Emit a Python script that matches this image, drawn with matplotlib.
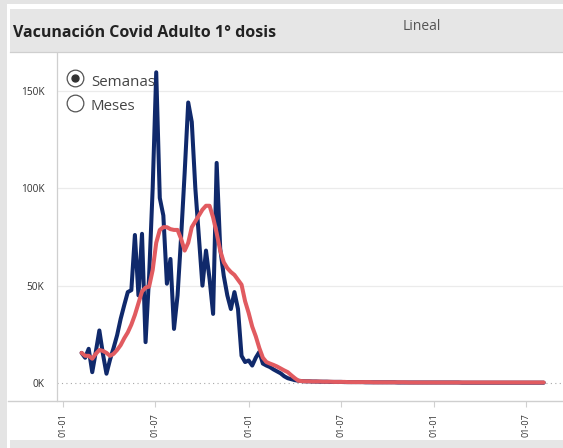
import matplotlib
matplotlib.use("Agg")
import matplotlib.pyplot as plt
from matplotlib.patches import Rectangle
from matplotlib.lines import Line2D
import pandas as pd

# ---------------- data ----------------
start_date = "2021-02-06"
semanal = [15.5, 13, 17.6, 5.6, 16, 27, 15, 4.8, 12, 18,
           24.6, 33, 40, 46.7, 47.7, 76, 45, 76.6, 21, 55,
           100, 159.5, 95, 86, 51, 63.7, 27.8, 45, 75, 108,
           144, 134, 100, 75, 50, 68, 53.5, 35.5, 113, 69,
           55, 45, 38, 46.7, 38, 14, 10.8, 11.6, 9, 13,
           16, 10, 9, 8.2, 7, 6, 5, 3.5, 2.5, 2,
           1.5, 1.2,
           1.0, 0.9, 0.9, 0.8, 0.8, 0.7, 0.7, 0.7, 0.6, 0.6,
           0.6, 0.6, 0.5, 0.5, 0.5, 0.5, 0.5, 0.5, 0.4, 0.4,
           0.4, 0.4, 0.4, 0.4, 0.4, 0.4, 0.4, 0.3, 0.3, 0.3,
           0.3, 0.3, 0.3, 0.3, 0.3, 0.3, 0.3, 0.3, 0.3, 0.3,
           0.3, 0.3, 0.3, 0.3, 0.3, 0.2, 0.2, 0.2, 0.2, 0.2,
           0.2, 0.2, 0.2, 0.2, 0.2, 0.2, 0.2, 0.2, 0.2, 0.2,
           0.2, 0.2, 0.2, 0.2, 0.2, 0.2, 0.2, 0.2, 0.2]
tendencia = [15.5, 14, 14, 12.5, 15, 17, 16.5, 15.5, 14, 15,
             17, 19.5, 23, 26, 30, 35, 41, 47, 49, 49.5,
             58, 72, 78.6, 80, 80, 79, 78.6, 78.6, 74, 68,
             72, 80, 83, 86, 89, 91, 91, 85, 77, 68,
             62, 59, 57, 55.5, 53, 50.5, 42, 36, 29, 24,
             18, 13, 10.8, 10, 9.3, 8.5, 7.5, 6.5, 5.6, 4,
             2.5, 1.2,
             1.0, 0.9, 0.9, 0.8, 0.8, 0.8, 0.7, 0.7, 0.7, 0.6,
             0.6, 0.6, 0.6, 0.5, 0.5, 0.5, 0.5, 0.5, 0.5, 0.5,
             0.4, 0.4, 0.4, 0.4, 0.4, 0.4, 0.4, 0.4, 0.4, 0.4,
             0.3, 0.3, 0.3, 0.3, 0.3, 0.3, 0.3, 0.3, 0.3, 0.3,
             0.3, 0.3, 0.3, 0.3, 0.3, 0.3, 0.3, 0.3, 0.3, 0.3,
             0.3, 0.3, 0.3, 0.3, 0.3, 0.3, 0.3, 0.3, 0.3, 0.3,
             0.3, 0.3, 0.3, 0.3, 0.3, 0.3, 0.3, 0.3, 0.3]
fechas = pd.date_range(start_date, periods=len(semanal), freq="7D")

ytick_vals = [0, 50, 100, 150]
ytick_labels = ["0K", "50K", "100K", "150K"]
xtick_dates = ["2021-01-01", "2021-07-01", "2022-01-01", "2022-07-01",
               "2023-01-01", "2023-07-01"]
xtick_labels = ["01-01", "01-07", "01-01", "01-07", "01-01", "01-07"]
titulo = "Vacunación Covid Adulto 1° dosis"
opciones = ["Semanas", "Meses"]

# ---------------- figure ----------------
W, H = 563, 448
fig = plt.figure(figsize=(W / 100, H / 100), dpi=100, facecolor="white")

def fx(x):
    return x / W

def fy(y):
    return 1 - y / H

def rect(x0, y0, x1, y1, color, z=0):
    fig.patches.append(Rectangle((fx(x0), fy(y1)), fx(x1) - fx(x0), fy(y0) - fy(y1),
                                 transform=fig.transFigure, facecolor=color,
                                 edgecolor="none", zorder=z))

def hline(x0, x1, y, color, lw=1.0, ls="-"):
    fig.add_artist(Line2D([fx(x0), fx(x1)], [fy(y), fy(y)], transform=fig.transFigure,
                          color=color, lw=lw, ls=ls))

# frame / background bands
rect(0, 0, W, 4, "#e4e4e4")
rect(0, 0, 7, H, "#e4e4e4")
rect(10, 440, W, H, "#e6e6e6")
rect(10, 9, W, 52, "#e6e6e6")
hline(10, W, 52, "#cfcfcf", lw=0.9)

fig.text(fx(13), fy(33), titulo, fontsize=11.5, fontweight="bold",
         family="Open Sans", color="#222222", va="center", ha="left")
fig.text(fx(403), fy(26), "Lineal", fontsize=10, family="Open Sans",
         color="#555555", va="center", ha="left")

# axes
x_left, x_right, y_top, y_bot = 57, W, 53, 401
ax = fig.add_axes([fx(x_left), fy(y_bot), fx(x_right) - fx(x_left), fy(y_top) - fy(y_bot)])
ax.set_facecolor("white")

for v in ytick_vals[1:]:
    ax.axhline(v, color="#ebebeb", lw=0.9, zorder=1)
ax.axhline(0, color="#a8a8a8", lw=0.8, ls=(0, (1, 3)), zorder=1)

ax.plot(fechas, semanal, color="#10296b", lw=2.9, solid_joinstyle="round",
        solid_capstyle="round", zorder=3)
ax.plot(fechas, tendencia, color="#e15b60", lw=2.9, solid_joinstyle="round",
        solid_capstyle="round", zorder=4)

x0 = pd.Timestamp("2021-01-01") - pd.Timedelta(days=12.4)
x1 = pd.Timestamp("2021-01-01") + pd.Timedelta(days=984)
ax.set_xlim(x0, x1)
ax.set_ylim(-9.2, 169.4)

ax.set_yticks(ytick_vals)
ax.set_yticklabels(ytick_labels, fontsize=7.3, color="#333333", family="Open Sans")
ax.tick_params(axis="y", length=0, pad=9)

ax.set_xticks(pd.to_datetime(xtick_dates))
ax.set_xticklabels(xtick_labels, rotation=90, fontsize=6.5, color="#333333",
                   family="Open Sans")
ax.tick_params(axis="x", length=4, width=0.8, color="#d0d0d0", pad=5)

for s in ["top", "right", "bottom"]:
    ax.spines[s].set_visible(False)
ax.spines["left"].set_color("#cfcfcf")
ax.spines["left"].set_linewidth(0.9)

hline(8, W, 401, "#cfcfcf", lw=1.0)

# radio buttons
for i, (lab, cy) in enumerate(zip(opciones, [78, 103])):
    fig.add_artist(Line2D([fx(75)], [fy(cy)], transform=fig.transFigure, marker="o",
                          markersize=12, markerfacecolor="white",
                          markeredgecolor="#555555", markeredgewidth=0.9, zorder=10))
    if i == 0:
        fig.add_artist(Line2D([fx(75)], [fy(cy)], transform=fig.transFigure, marker="o",
                              markersize=5, markerfacecolor="#333333",
                              markeredgecolor="#333333", zorder=11))
    fig.text(fx(91), fy(cy + 4), lab, fontsize=10.8, family="Open Sans", color="#444444",
             va="center", ha="left", zorder=11)

fig.savefig("out.png", dpi=100, facecolor="white")
